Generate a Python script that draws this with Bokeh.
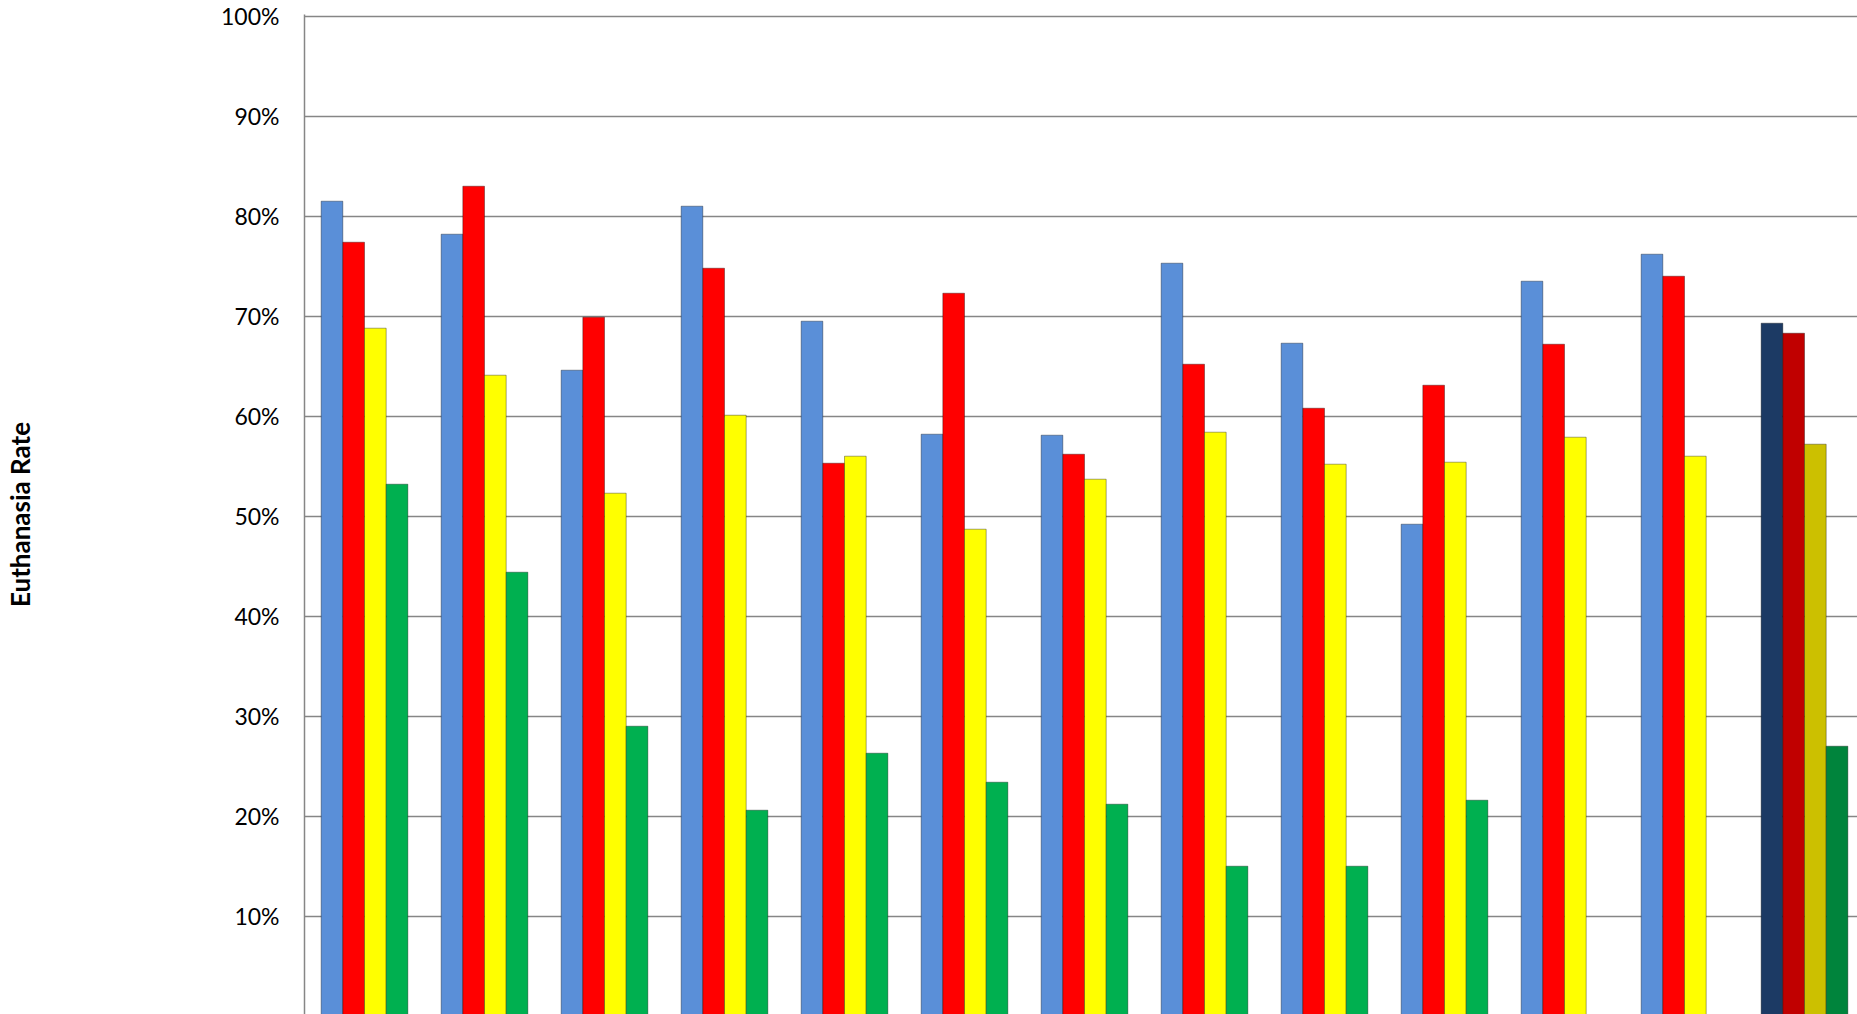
from bokeh.plotting import figure
from bokeh.models import ColumnDataSource, Range1d, FixedTicker, NumeralTickFormatter
from bokeh.embed import file_html
from bokeh.resources import INLINE

# ---- data (percent) ----
groups = list(range(1, 14))  # 13 categories; last one is the overall group (darker colours)
series_names = ["Series 1", "Series 2", "Series 3", "Series 4"]
blue_vals = [81.5, 78.2, 64.6, 81.0, 69.5, 58.2, 58.1, 75.3, 67.3, 49.2, 73.5, 76.2, 69.3]
red_vals = [77.4, 83.0, 69.9, 74.8, 55.3, 72.3, 56.2, 65.2, 60.8, 63.1, 67.2, 74.0, 68.3]
yellow_vals = [68.8, 64.1, 52.3, 60.1, 56.0, 48.7, 53.7, 58.4, 55.2, 55.4, 57.9, 56.0, 57.2]
green_vals = [53.2, 44.4, 29.0, 20.6, 26.3, 23.4, 21.2, 15.0, 15.0, 21.6, None, None, 27.0]
y_ticks = [0, 10, 20, 30, 40, 50, 60, 70, 80, 90, 100]

normal_colors = ["#5A8FD8", "#FF0000", "#FFFF00", "#00B050"]
total_colors = ["#1C3A64", "#C00000", "#CCC000", "#00843C"]

all_series = [blue_vals, red_vals, yellow_vals, green_vals]

W, H = 1857, 1014
p = figure(width=W, height=H, output_backend="svg", toolbar_location=None,
           x_axis_location=None, min_border_left=304, min_border_right=0,
           min_border_top=14, min_border_bottom=0)
n_cat = len(groups)
p.x_range = Range1d(0, (W - 304) / 120)
p.y_range = Range1d(0.0017, 1.0017)

bar_w = 0.1806
offsets = [-1.5 * bar_w, -0.5 * bar_w, 0.5 * bar_w, 1.5 * bar_w]

for k, vals in enumerate(all_series):
    xs, tops, cols = [], [], []
    for i, v in enumerate(vals):
        if v is None:
            continue
        xs.append(i + 0.5 + offsets[k])
        tops.append(v / 100.0)
        cols.append(total_colors[k] if i == n_cat - 1 else normal_colors[k])
    src = ColumnDataSource(dict(x=xs, top=tops, color=cols))
    p.vbar(x="x", top="top", bottom=0, width=bar_w, source=src,
           fill_color="color", line_color="#000000", line_alpha=0.35, line_width=1)

p.outline_line_color = None
p.background_fill_color = "white"
p.border_fill_color = "white"

p.xgrid.visible = False
p.ygrid.grid_line_color = "#868686"
p.ygrid.grid_line_width = 1.5

ax = p.yaxis[0]
ax.ticker = FixedTicker(ticks=[t / 100.0 for t in y_ticks])
ax.formatter = NumeralTickFormatter(format="0%")
ax.major_tick_in = 0
ax.major_tick_out = 0
ax.minor_tick_in = 0
ax.minor_tick_out = 0
ax.axis_line_color = "#868686"
ax.axis_line_width = 1.5
ax.major_label_standoff = 25
ax.major_label_text_font = "Lato"
ax.major_label_text_font_size = "23px"
ax.major_label_text_color = "#000000"
ax.axis_label = "Euthanasia Rate"
ax.axis_label_text_font = "Lato"
ax.axis_label_text_font_style = "bold"
ax.axis_label_text_font_size = "26px"
ax.axis_label_text_color = "#000000"
ax.axis_label_standoff = 182

open("out.html", "w").write(file_html(p, INLINE))
